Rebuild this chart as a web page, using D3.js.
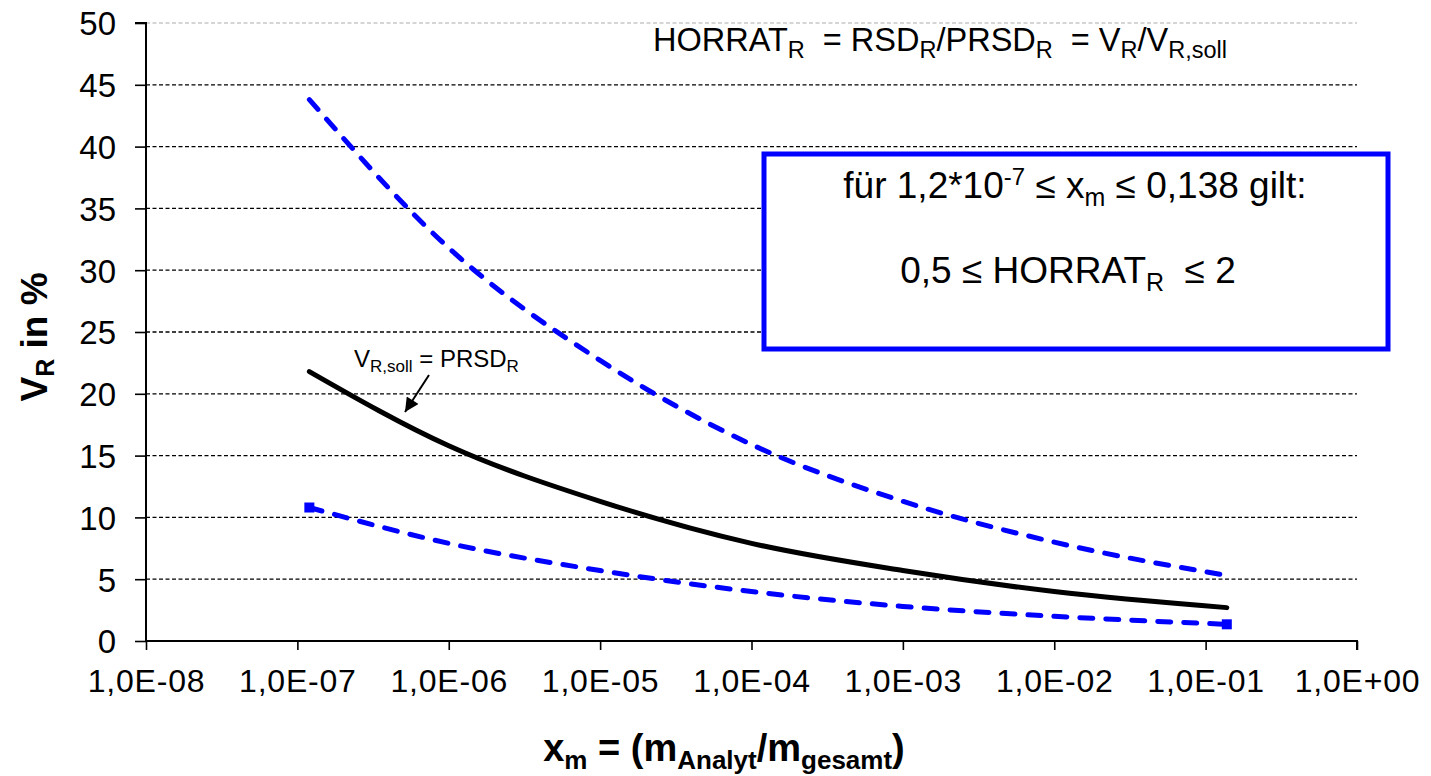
<!DOCTYPE html>
<html>
<head>
<meta charset="utf-8">
<script src="https://cdn.jsdelivr.net/npm/d3@7"></script>
<style>
  html, body { margin: 0; padding: 0; background: #fff; }
  svg { display: block; }
  text { font-family: "Liberation Sans", Arial, sans-serif; fill: #000; }
</style>
</head>
<body>
<svg id="chart" width="1431" height="776"></svg>
<script>
// ---- data ----
const xValues     = [1.2e-7, 1e-6, 1e-5, 1e-4, 1e-3, 1e-2, 0.138];
const prsdValues  = [21.8, 15.8, 11.3, 7.9, 5.7, 4.0, 2.7];   // V_R,soll = PRSD_R
const upperValues = [43.8, 31.8, 22.7, 15.9, 11.3, 8.0, 5.3]; // HORRAT 2
const lowerValues = [10.8, 7.9, 5.7, 4.0, 2.8, 2.0, 1.35];    // HORRAT 0.5
const xTickValues = [1e-8, 1e-7, 1e-6, 1e-5, 1e-4, 1e-3, 1e-2, 1e-1, 1];
const xTickLabels = ["1,0E-08","1,0E-07","1,0E-06","1,0E-05","1,0E-04","1,0E-03","1,0E-02","1,0E-01","1,0E+00"];
const yTickValues = [0, 5, 10, 15, 20, 25, 30, 35, 40, 45, 50];

const svg = d3.select("#chart");
const x = d3.scaleLog().domain([1e-8, 1]).range([146, 1357]);
const y = d3.scaleLinear().domain([0, 50]).range([641, 23]);

// grid lines
svg.append("g").selectAll("line")
  .data(yTickValues.filter(v => v > 0))
  .join("line")
  .attr("x1", x(1e-8)).attr("x2", x(1))
  .attr("y1", d => y(d)).attr("y2", d => y(d))
  .attr("stroke", d => d === 50 ? "#c8c8c8" : "#000")
  .attr("stroke-width", 1.3)
  .attr("stroke-dasharray", "4,2.5");

// y axis
const yAxis = d3.axisLeft(y).tickValues(yTickValues).tickSize(11).tickPadding(19).tickFormat(d3.format("d"));
const gy = svg.append("g").attr("transform", `translate(${x(1e-8)},0)`).call(yAxis);
gy.select(".domain").attr("stroke", "#000").attr("stroke-width", 2).attr("d", `M-11,${y(50)}H0V${y(0)}`);
gy.selectAll(".tick line").attr("stroke", "#000").attr("stroke-width", 1.6);
gy.selectAll(".tick text").attr("font-size", 33).attr("font-family", "Liberation Sans, Arial, sans-serif").attr("dy", "0.36em");

// x axis
const xAxis = d3.axisBottom(x).tickValues(xTickValues).tickSize(9).tickPadding(14)
  .tickFormat((d, i) => xTickLabels[i]);
const gx = svg.append("g").attr("transform", `translate(0,${y(0)})`).call(xAxis);
gx.select(".domain").attr("stroke", "#000").attr("stroke-width", 2).attr("d", `M${x(1e-8)},0H${x(1)}V9`);
gx.selectAll(".tick line").attr("stroke", "#000").attr("stroke-width", 1.6);
gx.selectAll(".tick text").attr("font-size", 32).attr("letter-spacing", 0.8)
  .attr("font-family", "Liberation Sans, Arial, sans-serif").attr("dy", "0.88em");

// lines
const line = d3.line().x(d => x(d[0])).y(d => y(d[1])).curve(d3.curveMonotoneX);
const zip = vals => xValues.map((v, i) => [v, vals[i]]);

svg.append("path").datum(zip(upperValues))
  .attr("d", line).attr("fill", "none").attr("stroke", "#0000ff")
  .attr("stroke-width", 5).attr("stroke-linecap", "round").attr("stroke-dasharray", "13,13");
svg.append("path").datum(zip(lowerValues))
  .attr("d", line).attr("fill", "none").attr("stroke", "#0000ff")
  .attr("stroke-width", 5).attr("stroke-linecap", "round").attr("stroke-dasharray", "13,13");
svg.append("path").datum(zip(prsdValues))
  .attr("d", line).attr("fill", "none").attr("stroke", "#000")
  .attr("stroke-width", 5).attr("stroke-linecap", "round");

// square markers at ends of lower line
const lowerEnds = [[xValues[0], lowerValues[0]], [xValues[xValues.length-1], lowerValues[lowerValues.length-1]]];
svg.append("g").selectAll("rect").data(lowerEnds).join("rect")
  .attr("x", d => x(d[0]) - 5).attr("y", d => y(d[1]) - 5)
  .attr("width", 10).attr("height", 10).attr("fill", "#0000ff");

// formula text at top
const f = svg.append("text").attr("x", 653).attr("y", 51).attr("font-size", 32.5);
const parts = [
  ["HORRAT", 0], ["R", 1], ["  = RSD", 0], ["R", 1], ["/PRSD", 0], ["R", 1], ["  = V", 0], ["R", 1], ["/V", 0], ["R,soll", 1]
];
let sub = false;
parts.forEach(([t, s]) => {
  const ts = f.append("tspan").text(t).style("white-space", "pre");
  if (s && !sub) { ts.attr("dy", 7).attr("font-size", 23.5); sub = true; }
  else if (s) { ts.attr("font-size", 23.5); }
  else if (!s && sub) { ts.attr("dy", -7); sub = false; }
});

// box
svg.append("rect").attr("x", 764).attr("y", 154).attr("width", 624).attr("height", 195)
  .attr("fill", "#fff").attr("stroke", "#0000ff").attr("stroke-width", 5);

const t1 = svg.append("text").attr("x", 1075).attr("y", 198).attr("font-size", 37).attr("text-anchor", "middle");
t1.append("tspan").text("für 1,2*10");
t1.append("tspan").text("-7").attr("font-size", 24).attr("dy", -13);
t1.append("tspan").text(" ≤ x").attr("dy", 13);
t1.append("tspan").text("m").attr("font-size", 25).attr("dy", 8);
t1.append("tspan").text(" ≤ 0,138 gilt:").attr("dy", -8);

const t2 = svg.append("text").attr("x", 1068).attr("y", 283).attr("font-size", 37).attr("text-anchor", "middle");
t2.append("tspan").text("0,5 ≤ HORRAT");
t2.append("tspan").text("R").attr("font-size", 25).attr("dy", 8);
t2.append("tspan").text("  ≤ 2").attr("dy", -8).style("white-space", "pre");

// annotation
const a = svg.append("text").attr("x", 354).attr("y", 367).attr("font-size", 24);
a.append("tspan").text("V");
a.append("tspan").text("R,soll").attr("font-size", 17).attr("dy", 5);
a.append("tspan").text(" = PRSD").attr("dy", -5);
a.append("tspan").text("R").attr("font-size", 17).attr("dy", 5);

const defs = svg.append("defs");
defs.append("marker").attr("id", "ah").attr("viewBox", "0 0 10 10").attr("refX", 10).attr("refY", 5)
  .attr("markerWidth", 8).attr("markerHeight", 7).attr("orient", "auto").attr("markerUnits", "strokeWidth")
  .append("path").attr("d", "M0,0L10,5L0,10z").attr("fill", "#000");
svg.append("line").attr("x1", 429).attr("y1", 375).attr("x2", 405).attr("y2", 412)
  .attr("stroke", "#000").attr("stroke-width", 2).attr("marker-end", "url(#ah)");

// axis titles
const yt = svg.append("text").attr("transform", "translate(47,337) rotate(-90)")
  .attr("text-anchor", "middle").attr("font-size", 37).attr("font-weight", "bold");
yt.append("tspan").text("V");
yt.append("tspan").text("R").attr("font-size", 25).attr("dy", 7);
yt.append("tspan").text(" in %").attr("dy", -7);

const xt = svg.append("text").attr("x", 724).attr("y", 761)
  .attr("text-anchor", "middle").attr("font-size", 38).attr("font-weight", "bold");
xt.append("tspan").text("x");
xt.append("tspan").text("m").attr("font-size", 26).attr("dy", 8);
xt.append("tspan").text(" = (m").attr("dy", -8);
xt.append("tspan").text("Analyt").attr("font-size", 26).attr("dy", 8);
xt.append("tspan").text("/m").attr("dy", -8);
xt.append("tspan").text("gesamt").attr("font-size", 26).attr("dy", 8);
xt.append("tspan").text(")").attr("dy", -8);
</script>
</body>
</html>
